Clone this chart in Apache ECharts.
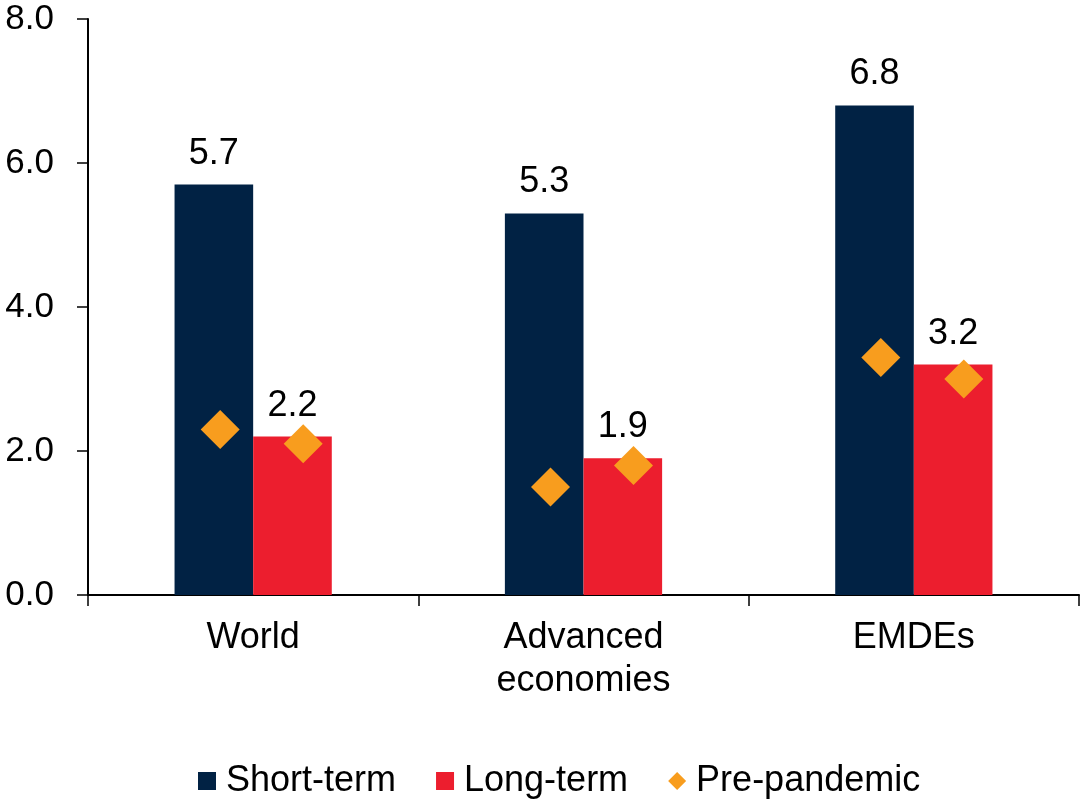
<!DOCTYPE html>
<html>
<head>
<meta charset="utf-8">
<script src="https://cdn.jsdelivr.net/npm/echarts@6/dist/echarts.min.js"></script>
<style>
  html, body { margin: 0; padding: 0; background: #ffffff; }
  #chart { width: 1081px; height: 799px; }
</style>
</head>
<body>
<div id="chart"></div>
<script>
// Country groups along the horizontal axis
const categories = ['World', 'Advanced\neconomies', 'EMDEs'];
// Bar values
const shortTerm = [5.7, 5.3, 6.8];
const longTerm = [2.2, 1.9, 3.2];
// Pre-pandemic markers, one next to each bar
const prePandemicShort = [2.3, 1.5, 3.3];
const prePandemicLong = [2.1, 1.8, 3.0];
// Value axis range
const yMin = 0;
const yMax = 8;
const yStep = 2;

const FONT = 'Liberation Sans, Arial, Helvetica, sans-serif';
const NAVY = '#012244';
const RED = '#EC1E2E';
const ORANGE = '#F89D1E';

const chart = echarts.init(document.getElementById('chart'), null, { renderer: 'canvas' });

const barLabel = {
  show: true,
  position: 'top',
  distance: 13,
  color: '#000',
  fontFamily: FONT,
  fontSize: 36,
  lineHeight: 36,
  formatter: p => p.value.toFixed(1)
};

chart.setOption({
  animation: false,
  backgroundColor: '#ffffff',
  textStyle: { fontFamily: FONT },
  grid: { left: 88, right: 2, top: 19, bottom: 204, containLabel: false },
  legend: {
    left: 198,
    top: 763,
    padding: 0,
    itemWidth: 18,
    itemHeight: 18,
    itemGap: 40,
    textStyle: { fontFamily: FONT, fontSize: 36, color: '#000', padding: [0, 0, 0, 5] },
    data: [
      { name: 'Short-term', icon: 'rect' },
      { name: 'Long-term', icon: 'rect' },
      { name: 'Pre-pandemic', icon: 'diamond' }
    ]
  },
  xAxis: {
    type: 'category',
    data: categories,
    boundaryGap: true,
    axisLine: { lineStyle: { color: '#000', width: 2 } },
    axisTick: { show: true, length: 11, lineStyle: { color: '#000', width: 1.5 } },
    axisLabel: {
      color: '#000',
      fontFamily: FONT,
      fontSize: 36,
      lineHeight: 43,
      margin: 22,
      interval: 0
    },
    splitLine: { show: false }
  },
  yAxis: {
    type: 'value',
    min: yMin,
    max: yMax,
    interval: yStep,
    axisLine: { show: true, lineStyle: { color: '#000', width: 2 } },
    axisTick: { show: true, length: 11, lineStyle: { color: '#000', width: 1.5 } },
    axisLabel: {
      color: '#000',
      fontFamily: FONT,
      fontSize: 35,
      margin: 34,
      formatter: v => v.toFixed(1)
    },
    splitLine: { show: false }
  },
  series: [
    {
      name: 'Short-term',
      type: 'bar',
      data: shortTerm,
      barWidth: '23.8%',
      barGap: '0%',
      itemStyle: { color: NAVY },
      label: barLabel
    },
    {
      name: 'Long-term',
      type: 'bar',
      data: longTerm,
      barWidth: '23.8%',
      barGap: '0%',
      itemStyle: { color: RED },
      label: barLabel
    },
    {
      name: 'Pre-pandemic',
      type: 'scatter',
      data: prePandemicShort,
      symbol: 'diamond',
      symbolSize: 39,
      symbolOffset: [-33, 0],
      itemStyle: { color: ORANGE, opacity: 1 },
      z: 5
    },
    {
      name: 'Pre-pandemic',
      type: 'scatter',
      data: prePandemicLong,
      symbol: 'diamond',
      symbolSize: 39,
      symbolOffset: [50, 0],
      itemStyle: { color: ORANGE, opacity: 1 },
      z: 5
    }
  ]
});
</script>
</body>
</html>
